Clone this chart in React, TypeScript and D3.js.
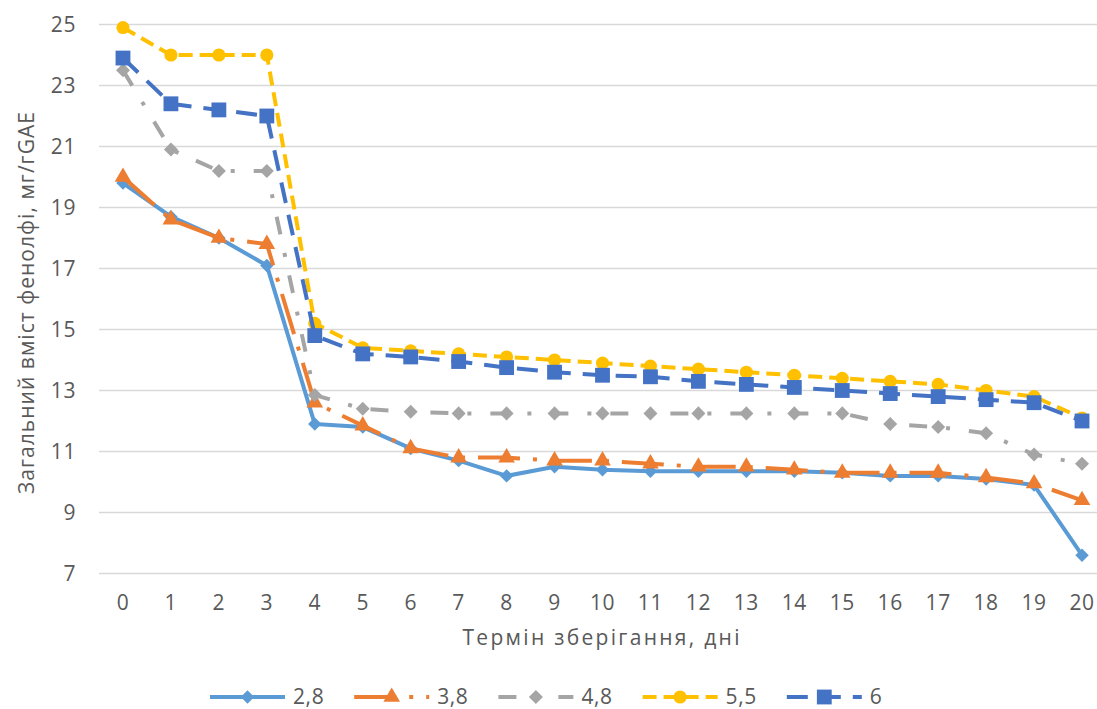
import React from 'react';
import * as d3 from 'd3';

const days = ['0', '1', '2', '3', '4', '5', '6', '7', '8', '9', '10', '11', '12', '13', '14', '15', '16', '17', '18', '19', '20'];
const yTicks = [7, 9, 11, 13, 15, 17, 19, 21, 23, 25];

const s28 = [19.8, 18.7, 18.0, 17.1, 11.9, 11.8, 11.1, 10.7, 10.2, 10.5, 10.4, 10.35, 10.35, 10.35, 10.35, 10.3, 10.2, 10.2, 10.1, 9.9, 7.6];
const s38 = [20.0, 18.6, 18.0, 17.8, 12.6, 11.85, 11.1, 10.8, 10.8, 10.7, 10.7, 10.6, 10.5, 10.5, 10.4, 10.3, 10.3, 10.3, 10.15, 9.95, 9.4];
const s48 = [23.5, 20.9, 20.2, 20.2, 12.85, 12.4, 12.3, 12.25, 12.25, 12.25, 12.25, 12.25, 12.25, 12.25, 12.25, 12.25, 11.9, 11.8, 11.6, 10.9, 10.6];
const s55 = [24.9, 24.0, 24.0, 24.0, 15.2, 14.4, 14.3, 14.2, 14.1, 14.0, 13.9, 13.8, 13.7, 13.6, 13.5, 13.4, 13.3, 13.2, 13.0, 12.8, 12.1];
const s6 = [23.9, 22.4, 22.2, 22.0, 14.8, 14.2, 14.1, 13.95, 13.75, 13.6, 13.5, 13.45, 13.3, 13.2, 13.1, 13.0, 12.9, 12.8, 12.7, 12.6, 12.0];

type Marker = 'diamond' | 'triangle' | 'circle' | 'square';

const series: {name: string; values: number[]; color: string; dash: string; marker: Marker; size: number}[] = [
  {name: '2,8', values: s28, color: '#5B9BD5', dash: 'none', marker: 'diamond', size: 115},
  {name: '3,8', values: s38, color: '#ED7D31', dash: '42,13,4,13', marker: 'triangle', size: 120},
  {name: '4,8', values: s48, color: '#A5A5A5', dash: '18,19,4,19', marker: 'diamond', size: 125},
  {name: '5,5', values: s55, color: '#FFC000', dash: '14,7', marker: 'circle', size: 135},
  {name: '6', values: s6, color: '#4472C4', dash: '21,12', marker: 'square', size: 220},
];

const symbolType = {
  diamond: d3.symbolDiamond2,
  triangle: d3.symbolTriangle,
  circle: d3.symbolCircle,
  square: d3.symbolSquare,
};

const FONT = '"Open Sans", sans-serif';
const TEXT = '#595959';

export default function App() {
  const width = 1097;
  const height = 709;

  const x = d3.scaleBand<string>().domain(days).range([99, 1106]);
  const cx = (d: string) => (x(d) as number) + x.bandwidth() / 2;
  const y = d3.scaleLinear().domain([7, 25]).range([573.5, 24.5]);

  const line = d3.line<number>()
    .x((_, i) => cx(days[i]))
    .y(d => y(d));

  const symbolPath = (m: Marker, size: number) => d3.symbol().type(symbolType[m]).size(size)() as string;

  // legend items are evenly spaced, symbol 75px wide, label after it
  const legendX = d3.scaleBand<string>().domain(series.map(s => s.name)).range([210, 931]);

  return (
    <svg width={width} height={height} style={{position: 'absolute', left: 0, top: 0, background: '#fff'}}>
      <g>
        {yTicks.map(t => (
          <line key={t} x1={99} x2={1106} y1={y(t)} y2={y(t)} stroke="#D9D9D9" strokeWidth={1.5} />
        ))}
        {yTicks.map(t => (
          <text key={`l${t}`} x={76} y={y(t)} dy="0.35em" textAnchor="end" fontFamily={FONT} fontSize={21} letterSpacing={0.6} fill={TEXT}>{t}</text>
        ))}
        {days.map(d => (
          <text key={d} x={cx(d)} y={603} dy="0.35em" textAnchor="middle" fontFamily={FONT} fontSize={21} letterSpacing={0.6} fill={TEXT}>{d}</text>
        ))}
        <text x={601} y={638} dy="0.35em" textAnchor="middle" fontFamily={FONT} fontSize={21} fill={TEXT} textLength={277} lengthAdjust="spacing">Термін зберігання, дні</text>
        <text transform="translate(27, 303) rotate(-90)" dy="0.35em" textAnchor="middle" fontFamily={FONT} fontSize={21} fill={TEXT} textLength={382} lengthAdjust="spacing">Загальний вміст фенолфі, мг/гGAE</text>
      </g>
      {series.map(s => (
        <g key={s.name}>
          <path d={line(s.values) as string} fill="none" stroke={s.color} strokeWidth={4} strokeDasharray={s.dash} strokeLinejoin="round" />
          {s.values.map((v, i) => (
            <path key={i} d={symbolPath(s.marker, s.size)} transform={`translate(${cx(days[i])}, ${y(v)})`} fill={s.color} />
          ))}
        </g>
      ))}
      <g>
        {series.map(s => {
          const lx = legendX(s.name) as number;
          return (
            <g key={s.name} transform={`translate(${lx}, 697)`}>
              <line x1={0} x2={75} y1={0} y2={0} stroke={s.color} strokeWidth={4} strokeDasharray={s.dash} />
              <path d={symbolPath(s.marker, s.size)} transform="translate(37.5, 0)" fill={s.color} />
              <text x={83} y={0} dy="0.35em" fontFamily={FONT} fontSize={21} letterSpacing={0.6} fill={TEXT}>{s.name}</text>
            </g>
          );
        })}
      </g>
    </svg>
  );
}
